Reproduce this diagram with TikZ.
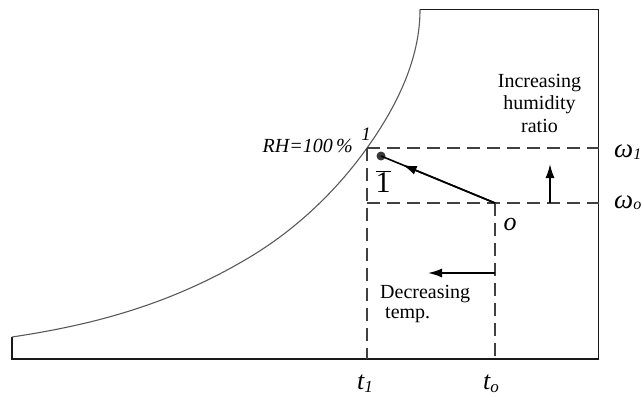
\RequirePackage{fix-cm}
\documentclass[tikz,border=0pt]{standalone}
\usepackage{fontspec}
\setmainfont{Liberation Serif}
\usetikzlibrary{arrows.meta,calc}
\begin{document}
\begin{tikzpicture}[x=1pt,y=-1pt,
  frame/.style={line width=1.4pt, draw=black!90},
  curveline/.style={line width=1.1pt, draw=black!65},
  guide/.style={line width=2pt, draw=black!75, dash pattern=on 13pt off 7pt},
  arrowline/.style={line width=1.6pt, draw=black, -{Latex[length=14pt,width=9pt]}},
  lbl/.style={inner sep=0pt, text=black}]
  \useasboundingbox (0,0) rectangle (642,396);
  % coordinates
  \coordinate (p1) at (367,148);
  \coordinate (po) at (495,203);
  \coordinate (c1) at (367,203);
  \coordinate (b1) at (367,359);
  \coordinate (bo) at (495,359);
  \coordinate (r1) at (598.5,148);
  \coordinate (ro) at (598.5,203);
  \coordinate (up0) at (550,203);
  \coordinate (up1) at (550,164);
  \coordinate (dt0) at (495,273);
  \coordinate (dt1) at (428,273);
  \coordinate (tl) at (420,9.5);
  \coordinate (tr) at (598.5,9.5);
  \coordinate (bl) at (12,359);
  \coordinate (cl) at (12,337);
  \coordinate (cm) at (250,257);
  % frame
  \draw[frame] (tl) -- (tr) -- (bo -| tr) -- (bl) -- (cl);
  % saturation curve (RH = 100 %)
  \draw[curveline] (cl) .. controls (92,325) and (170,305) .. (cm)
    .. controls (290,233) and (332,197) .. (p1)
    .. controls (407,92) and (420,47) .. (tl);
  % guide lines
  \draw[guide] (p1) -- (r1);
  \draw[guide] (c1) -- (ro);
  \draw[guide] (p1) -- (b1);
  \draw[guide] (po) -- (bo);
  % state point
  \node[circle, fill=black!78, inner sep=0pt, minimum size=9pt] (dot) at (381,156) {};
  \draw[line width=1.6pt] (po) -- (dot.center);
  \draw[arrowline] (po) -- ($(po)!0.81!(dot.center)$);
  % direction arrows
  \draw[arrowline] (up0) -- (up1);
  \draw[arrowline] (dt0) -- (dt1);
  % labels
  \node[lbl, anchor=base east, font=\fontsize{20}{20}\selectfont\itshape] (rh) at (353,152.5) {RH=100\,\%};
  \node[lbl, anchor=base, font=\fontsize{19}{19}\selectfont\itshape] (n1) at (366,140.5) {1};
  \node[lbl, anchor=base, font=\fontsize{30}{30}\selectfont] (n1b) at (383,192) {$\overline{\mbox{1}}$};
  \node[lbl, anchor=base, font=\fontsize{26}{26}\selectfont\itshape] (no) at (510,230) {o};
  \node[lbl, anchor=north, align=center, font=\fontsize{20}{22.5}\selectfont] (inc) at (539.5,74) {Increasing\\humidity\\ratio};
  \node[lbl, anchor=north west, align=left, font=\fontsize{20}{20}\selectfont] (dec) at (380,285) {Decreasing\\\hspace*{5pt}temp.};
  \node[lbl, anchor=base west, font=\fontsize{27}{27}\selectfont\itshape] (w1) at (614,157) {ω\raisebox{-2pt}{\fontsize{16}{16}\selectfont 1}};
  \node[lbl, anchor=base west, font=\fontsize{27}{27}\selectfont\itshape] (w0) at (614,208) {ω\raisebox{-1pt}{\fontsize{16}{16}\selectfont o}};
  \node[lbl, anchor=base, font=\fontsize{26}{26}\selectfont\itshape] (t1) at (365,389) {t\raisebox{-3pt}{\fontsize{17}{17}\selectfont 1}};
  \node[lbl, anchor=base, font=\fontsize{26}{26}\selectfont\itshape] (to) at (491,389) {t\raisebox{-3pt}{\fontsize{17}{17}\selectfont o}};
\end{tikzpicture}
\end{document}
